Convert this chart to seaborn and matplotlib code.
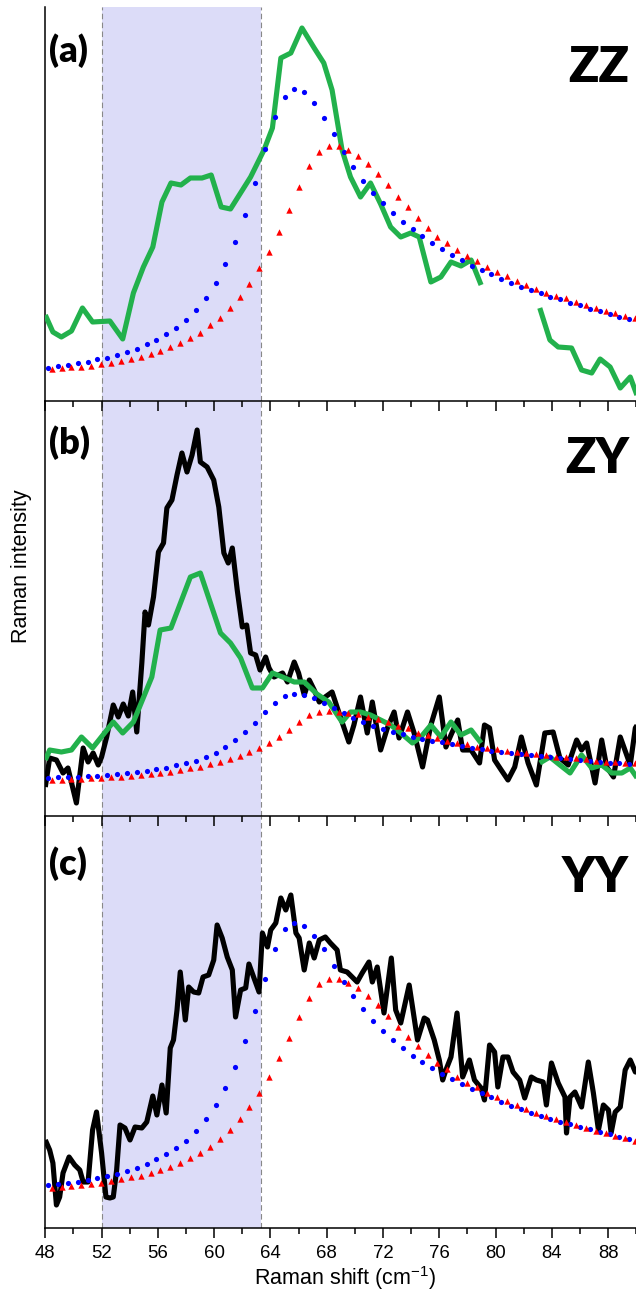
import matplotlib
matplotlib.use('Agg')

import numpy as np
import pandas as pd
import matplotlib.pyplot as plt
from matplotlib.ticker import MultipleLocator
import seaborn as sns

nan = np.nan

# ---- fitted curves (blue dots / red triangles) ----
x_blue = 48.2 + 0.7 * np.arange(60)
x_red = 48.45 + 0.703 * np.arange(60)

blue_a = [32, 34, 35, 37, 38, 41, 42, 45, 48, 51, 56, 60, 66, 72, 80, 90, 102, 117, 136, 158,
          185, 217, 251, 283, 303, 311, 308, 297, 282, 266, 248, 233, 219, 207, 197, 187, 178, 171, 164, 157,
          151, 145, 140, 134, 130, 126, 121, 117, 113, 110, 107, 103, 101, 97, 95, 91, 89, 86, 83, 81]
red_a = [31, 32, 33, 33, 34, 36, 37, 39, 41, 43, 46, 49, 53, 57, 62, 67, 75, 82, 92, 103,
         116, 132, 148, 168, 190, 213, 234, 248, 254, 254, 250, 244, 236, 226, 215, 203, 193, 182, 172, 163,
         157, 150, 144, 139, 133, 128, 124, 119, 115, 111, 107, 104, 102, 98, 95, 92, 89, 87, 84, 82]

blue_b = [38, 39, 39, 39, 40, 40, 41, 42, 43, 44, 45, 47, 48, 51, 53, 55, 59, 63, 69, 76,
          84, 93, 104, 113, 120, 122, 121, 118, 113, 108, 103, 98, 94, 90, 87, 84, 82, 79, 77, 75,
          74, 72, 70, 68, 67, 65, 64, 63, 62, 61, 60, 59, 58, 57, 56, 55, 54, 53, 53, 52]
red_b = [36, 36, 37, 37, 38, 38, 39, 39, 40, 41, 42, 43, 44, 46, 48, 49, 52, 54, 57, 60,
         64, 68, 73, 79, 86, 94, 101, 104, 105, 104, 103, 102, 99, 97, 94, 90, 88, 83, 81, 78,
         75, 73, 72, 69, 68, 67, 65, 64, 63, 62, 61, 59, 59, 58, 57, 55, 54, 54, 53, 53]

blue_c = [42, 43, 44, 45, 47, 49, 51, 53, 56, 59, 63, 68, 73, 79, 86, 96, 108, 122, 139, 160,
          186, 216, 248, 278, 298, 304, 301, 291, 278, 261, 245, 231, 218, 206, 196, 187, 179, 171, 165, 159,
          153, 148, 143, 138, 134, 130, 125, 121, 118, 114, 111, 108, 105, 103, 100, 98, 95, 93, 90, 88]
red_c = [39, 40, 41, 42, 43, 44, 46, 48, 50, 51, 54, 57, 60, 64, 69, 74, 80, 88, 97, 108,
         120, 134, 150, 169, 189, 210, 229, 243, 248, 248, 244, 239, 231, 222, 211, 200, 190, 181, 172, 164,
         158, 150, 144, 140, 134, 130, 126, 122, 118, 114, 111, 108, 105, 102, 99, 96, 94, 91, 89, 86]

# ---- measured spectra ----
x_green_a = [48.0, 48.54, 49.14, 49.86, 50.64, 51.36, 52.59, 53.5, 54.26, 54.97,
             55.64, 56.29, 56.93, 57.64, 58.31, 59.14, 59.79, 60.5, 61.16, 62.59,
             63.54, 64.14, 64.74, 65.45, 66.24, 67.11, 67.79, 68.38, 69.09, 69.69,
             70.4, 71.11, 71.83, 72.54, 73.26, 73.97, 74.57, 75.4, 76.11, 76.83,
             77.54, 78.26, 78.97, nan, 83.14, 83.86, 84.45, 85.4, 86.11, 86.83,
             87.43, 88.14, 88.86, 89.57, 90.04]
y_green_a = [85, 68, 63, 69, 92, 78, 79, 61, 107, 133,
             153, 198, 217, 215, 222, 222, 225, 193, 191, 223,
             250, 272, 342, 347, 372, 352, 337, 310, 250, 223,
             203, 217, 196, 173, 163, 167, 163, 118, 123, 138,
             134, 140, 115, nan, 92, 60, 53, 52, 30, 27,
             41, 33, 12, 23, 5]

x_black_b = [48.0, 48.31, 48.79, 49.26, 49.61, 50.21, 50.69, 51.04, 51.4, 51.76,
             52.0, 52.36, 52.83, 53.19, 53.54, 53.9, 54.21, 54.5, 54.86, 55.09,
             55.33, 55.69, 56.04, 56.4, 56.64, 57.0, 57.36, 57.71, 58.07, 58.43,
             58.79, 59.02, 59.5, 59.97, 60.33, 60.69, 61.0, 61.29, 61.64, 62.0,
             62.31, 62.59, 62.95, 63.26, 63.66, 63.9, 64.26, 64.86, 65.21, 65.69,
             66.0, 66.4, 66.76, 67.11, 67.47, 67.79, 68.38, 68.97, 69.57, 69.93,
             70.4, 70.88, 71.24, 71.83, 72.31, 72.79, 73.14, 73.74, 74.21, 74.81,
             75.4, 76.0, 76.47, 76.83, 77.31, 77.66, 78.26, 78.86, 79.21, 79.57,
             79.93, 80.4, 80.88, 81.36, 81.83, 82.31, 82.9, 83.5, 84.09, 84.57,
             85.16, 85.76, 86.11, 86.47, 87.07, 87.54, 87.9, 88.38, 88.86, 89.57,
             89.93, 90.16]
y_black_b = [29, 58, 56, 43, 48, 13, 68, 54, 63, 51,
             59, 79, 111, 99, 112, 100, 124, 84, 153, 204,
             191, 219, 264, 273, 308, 316, 341, 363, 344, 361,
             386, 354, 349, 336, 309, 263, 253, 268, 226, 189,
             191, 163, 161, 146, 159, 148, 139, 143, 134, 154,
             143, 121, 136, 126, 114, 118, 124, 99, 74, 91,
             119, 83, 114, 66, 88, 104, 78, 104, 83, 49,
             91, 119, 69, 81, 96, 66, 66, 53, 91, 88,
             56, 46, 36, 49, 79, 53, 31, 83, 84, 58,
             51, 76, 66, 73, 33, 76, 49, 39, 79, 51,
             88, 93]

x_green_b = [48.0, 48.31, 49.14, 49.86, 50.57, 51.36, 52.83, 53.5, 54.26, 55.57,
             56.16, 56.93, 58.31, 59.02, 60.45, 61.16, 61.88, 62.71, 63.43, 64.14,
             64.86, 65.69, 66.4, 67.3, 68.14, 69.09, 69.69, 70.4, 71.11, 71.83,
             72.54, 73.26, 74.09, 74.69, 75.4, 76.11, 76.83, 77.54, 78.26, 78.97,
             nan, 83.14, 83.86, 84.57, 85.29, 86.11, 86.83, 87.54, 88.26, 88.97,
             89.57, 90.16]
y_green_b = [56, 66, 64, 66, 79, 68, 94, 83, 94, 139,
             186, 188, 239, 243, 183, 173, 158, 128, 128, 143,
             139, 134, 134, 122, 114, 94, 104, 104, 101, 96,
             91, 83, 73, 79, 91, 79, 94, 81, 86, 73,
             nan, 53, 59, 51, 43, 61, 48, 51, 43, 43,
             48, 36]

x_black_c = [48.0, 48.31, 48.54, 48.79, 49.02, 49.26, 49.69, 50.09, 50.45, 50.69,
             51.04, 51.36, 51.64, 52.0, 52.31, 52.59, 52.83, 53.07, 53.31, 53.66,
             54.02, 54.38, 54.86, 55.21, 55.64, 55.93, 56.29, 56.59, 56.88, 57.11,
             57.36, 57.59, 57.95, 58.19, 58.54, 58.9, 59.21, 59.61, 59.97, 60.21,
             60.57, 60.93, 61.29, 61.52, 61.88, 62.24, 62.47, 62.83, 63.19, 63.43,
             63.79, 64.02, 64.38, 64.74, 65.09, 65.45, 65.81, 66.04, 66.4, 66.76,
             67.11, 67.47, 67.9, 68.26, 68.74, 68.97, 69.45, 70.16, 70.52, 71.0,
             71.24, 71.59, 72.07, 72.59, 72.9, 73.26, 73.86, 74.45, 74.93, 75.16,
             75.64, 76.0, 76.24, 76.47, 76.83, 77.26, 77.66, 78.14, 78.5, 78.97,
             79.21, 79.57, 79.93, 80.16, 80.52, 80.88, 81.24, 81.71, 82.07, 82.54,
             82.9, 83.38, 83.61, 83.97, 84.45, 84.93, 85.04, 85.29, 85.64, 86.11,
             86.59, 86.95, 87.31, 87.66, 88.02, 88.21, 88.5, 88.86, 89.21, 89.57,
             89.93, 90.16]
y_black_c = [87, 77, 64, 22, 30, 54, 70, 62, 57, 45,
             45, 97, 115, 74, 30, 29, 30, 57, 102, 99,
             87, 100, 99, 105, 131, 112, 142, 114, 179, 187,
             217, 255, 207, 240, 235, 234, 250, 252, 267, 302,
             289, 270, 257, 210, 237, 239, 263, 249, 235, 294,
             280, 297, 304, 329, 317, 332, 294, 289, 257, 284,
             269, 287, 290, 284, 277, 257, 255, 245, 254, 265,
             245, 260, 214, 269, 217, 204, 242, 187, 209, 207,
             187, 167, 147, 157, 170, 214, 150, 167, 147, 139,
             127, 182, 175, 140, 170, 170, 155, 147, 129, 150,
             147, 145, 122, 164, 144, 130, 94, 130, 135, 120,
             165, 134, 97, 122, 117, 94, 115, 120, 157, 167,
             155, 155]

band = (52.0, 63.35)
panel_labels = ['(a)', '(b)', '(c)']
pol_labels = ['ZZ', 'ZY', 'YY']

sns.set_style('ticks')
plt.rcParams['font.family'] = ['Liberation Sans', 'DejaVu Sans']
plt.rcParams['mathtext.fontset'] = 'custom'
plt.rcParams['mathtext.rm'] = 'Liberation Sans'
plt.rcParams['mathtext.it'] = 'Liberation Sans:italic'
plt.rcParams['mathtext.bf'] = 'Liberation Sans:bold'
plt.rcParams['text.color'] = 'black'
plt.rcParams['axes.labelcolor'] = 'black'
plt.rcParams['xtick.color'] = 'black'
plt.rcParams['xtick.labelcolor'] = 'black'

GREEN = '#22b14c'
SHADE = '#dcdcf8'
W, H = 636, 1292

fig = plt.figure(figsize=(W / 100, H / 100), dpi=100)


def draw_line(ax, xs, ys, color):
    df = pd.DataFrame({'x': xs, 'y': ys})
    df['seg'] = df['y'].isna().cumsum()
    df = df.dropna()
    sns.lineplot(data=df, x='x', y='y', units='seg', estimator=None, sort=False,
                 color=color, lw=3.7, ax=ax, legend=False,
                 solid_joinstyle='round', solid_capstyle='butt', zorder=3)


def draw_fits(ax, blue, red):
    sns.scatterplot(x=x_blue, y=blue, marker='o', color='#0000ff', s=14,
                    linewidth=0, ax=ax, zorder=4, legend=False)
    sns.scatterplot(x=x_red, y=red, marker='^', color='#ff0000', s=21,
                    linewidth=0, ax=ax, zorder=4, legend=False)


# panels in pixel rows: (top, bottom, ylim)
layout = [(7, 401, (-1, 393)), (401, 816, (0, 415)), (816, 1228, (-1, 411))]

# create bottom panel first so upper panels' ticks are drawn over the lower shading
axes = {}
for i in [2, 1, 0]:
    top, bottom, ylim = layout[i]
    ax = fig.add_axes([45.3 / W, 1 - bottom / H, 591 / W, (bottom - top) / H])
    ax.patch.set_visible(False)
    ax.set_xlim(48, 90)
    ax.set_ylim(*ylim)
    ax.set_yticks([])
    axes[i] = ax

for i, ax in axes.items():
    ax.axvspan(band[0], band[1], color=SHADE, lw=0, zorder=0)
    for xv in band:
        ax.axvline(xv, color='#888888', lw=0.8, ls=(0, (5, 3)), zorder=1)

draw_line(axes[0], x_green_a, y_green_a, GREEN)
draw_fits(axes[0], blue_a, red_a)

draw_line(axes[1], x_black_b, y_black_b, 'black')
draw_line(axes[1], x_green_b, y_green_b, GREEN)
draw_fits(axes[1], blue_b, red_b)

draw_line(axes[2], x_black_c, y_black_c, 'black')
draw_fits(axes[2], blue_c, red_c)

for i, ax in axes.items():
    ax.set_xlabel('')
    ax.set_ylabel('')
    ax.xaxis.set_major_locator(MultipleLocator(4))
    ax.xaxis.set_minor_locator(MultipleLocator(2))
    ax.tick_params(axis='x', which='major', direction='out', length=7.5, width=1.1,
                   labelsize=13.4, pad=5, colors='black')
    ax.tick_params(axis='x', which='minor', direction='out', length=4.5, width=1.1,
                   colors='black')
    ax.tick_params(axis='x', labelbottom=(i == 2))
    ax.spines['top'].set_visible(False)
    ax.spines['right'].set_visible(False)
    for s in ['left', 'bottom']:
        ax.spines[s].set_color('black')
        ax.spines[s].set_linewidth(1.1)

# panel letters and polarisation labels
letter_base = [61.5, 453.5, 875]
pol_base = [82, 473, 892]
for i in range(3):
    fig.text(49 / W, 1 - letter_base[i] / H, panel_labels[i], family=['Lato', 'DejaVu Sans'],
             fontsize=26, fontweight='heavy', ha='left', va='baseline', color='black')
    fig.text(629 / W, 1 - pol_base[i] / H, pol_labels[i], family=['Lato', 'DejaVu Sans'],
             fontsize=36, fontweight='heavy', ha='right', va='baseline', color='black')

fig.text(22 / W, 1 - 566 / H, 'Raman intensity', fontsize=15.5, rotation=90,
         ha='center', va='center', color='black')
fig.text(345 / W, 1 - 1285 / H, r'Raman shift (cm$^{-1}$)', fontsize=15.5,
         ha='center', va='baseline', color='black')

fig.savefig('out.png', dpi=100)
